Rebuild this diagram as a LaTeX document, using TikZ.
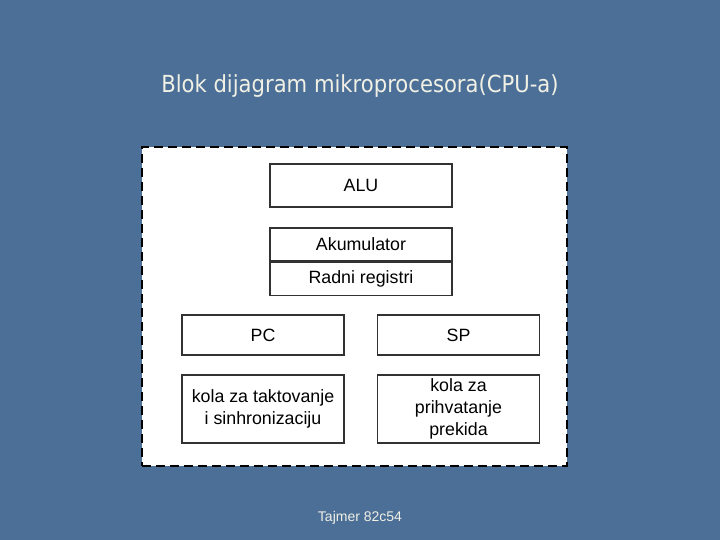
\documentclass[tikz,border=0pt]{standalone}
\usepackage{fontspec}
\setmainfont{Liberation Sans}
\newfontfamily\naslovfont{DejaVu Sans Condensed}
\usetikzlibrary{positioning}
\definecolor{pozadina}{RGB}{76,111,152}
\definecolor{svijetla}{RGB}{240,240,228}
\definecolor{linija}{RGB}{50,50,50}
\tikzset{
  blok/.style={draw=linija, line width=1.5pt, fill=white, minimum width=182pt,
    inner sep=0pt, align=center, font=\fontsize{17.8}{22}\selectfont},
  malibok/.style={blok, minimum width=162pt}
}

\begin{document}
\begin{tikzpicture}[x=1pt,y=-1pt]
\fill[pozadina] (0,0) rectangle (720,540);
\useasboundingbox (0,0) rectangle (720,540);
\node[text=svijetla, font=\naslovfont\fontsize{23.5}{26}\selectfont] (naslov) at (360,86) {Blok dijagram mikroprocesora(CPU-a)};
% okvir procesora
\node[draw=black, dashed, dash pattern=on 9pt off 5pt, line width=2pt, fill=white,
  minimum width=425pt, minimum height=319pt, inner sep=0pt] (cpu) at (354.5,306.5) {};
\node[blok, minimum height=43pt] (alu) at (361,185.5) {ALU};
\node[blok, minimum height=33pt] (aku) at (361,244.5) {Akumulator};
\node[blok, minimum height=33pt, below=0pt of aku] (reg) {Radni registri};
\node[malibok, minimum height=40pt] (pc) at (263,335) {PC};
\node[malibok, minimum height=40pt] (sp) at (458.5,335) {SP};
\node[malibok, minimum height=68pt] (takt) at (263,409) {kola za taktovanje\\i sinhronizaciju};
\node[malibok, minimum height=68pt] (prekid) at (458.5,409) {kola za\\prihvatanje\\prekida};
\node[text=svijetla, font=\fontsize{14}{16}\selectfont] (tajmer) at (360,518) {Tajmer 82c54};
\end{tikzpicture}
\end{document}
